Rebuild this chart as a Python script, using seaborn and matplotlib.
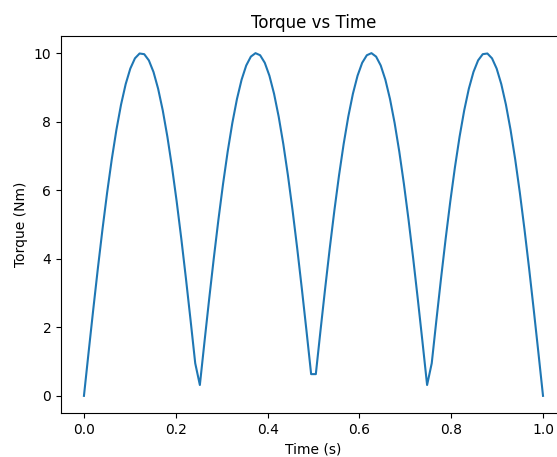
import matplotlib
matplotlib.use('Agg')
import matplotlib.pyplot as plt
import pandas as pd
import seaborn as sns

time_s = [0.0000, 0.0101, 0.0202, 0.0303, 0.0404, 0.0505, 0.0606, 0.0707, 0.0808, 0.0909,
          0.1010, 0.1111, 0.1212, 0.1313, 0.1414, 0.1515, 0.1616, 0.1717, 0.1818, 0.1919,
          0.2020, 0.2121, 0.2222, 0.2323, 0.2424, 0.2525, 0.2626, 0.2727, 0.2828, 0.2929,
          0.3030, 0.3131, 0.3232, 0.3333, 0.3434, 0.3535, 0.3636, 0.3737, 0.3838, 0.3939,
          0.4040, 0.4141, 0.4242, 0.4343, 0.4444, 0.4545, 0.4646, 0.4747, 0.4848, 0.4949,
          0.5051, 0.5152, 0.5253, 0.5354, 0.5455, 0.5556, 0.5657, 0.5758, 0.5859, 0.5960,
          0.6061, 0.6162, 0.6263, 0.6364, 0.6465, 0.6566, 0.6667, 0.6768, 0.6869, 0.6970,
          0.7071, 0.7172, 0.7273, 0.7374, 0.7475, 0.7576, 0.7677, 0.7778, 0.7879, 0.7980,
          0.8081, 0.8182, 0.8283, 0.8384, 0.8485, 0.8586, 0.8687, 0.8788, 0.8889, 0.8990,
          0.9091, 0.9192, 0.9293, 0.9394, 0.9495, 0.9596, 0.9697, 0.9798, 0.9899, 1.0000]

torque_nm = [0.000, 1.266, 2.511, 3.717, 4.862, 5.929, 6.901, 7.761, 8.497, 9.096,
             9.549, 9.848, 9.989, 9.969, 9.788, 9.450, 8.960, 8.327, 7.557, 6.666,
             5.671, 4.582, 3.420, 2.203, 0.951, 0.317, 1.580, 2.817, 4.009, 5.137,
             6.182, 7.127, 7.958, 8.660, 9.224, 9.639, 9.898, 9.999, 9.938, 9.718,
             9.341, 8.815, 8.146, 7.346, 6.428, 5.406, 4.298, 3.120, 1.893, 0.634,
             0.634, 1.893, 3.120, 4.298, 5.406, 6.428, 7.346, 8.146, 8.815, 9.341,
             9.718, 9.938, 9.999, 9.898, 9.639, 9.224, 8.660, 7.958, 7.127, 6.182,
             5.137, 4.009, 2.817, 1.580, 0.317, 0.951, 2.203, 3.420, 4.582, 5.671,
             6.666, 7.557, 8.327, 8.960, 9.450, 9.788, 9.969, 9.989, 9.848, 9.549,
             9.096, 8.497, 7.761, 6.901, 5.929, 4.862, 3.717, 2.511, 1.266, 0.000]

df = pd.DataFrame({'time': time_s, 'torque': torque_nm})

fig = plt.figure(figsize=(5.57, 4.57), dpi=100)
ax = fig.add_axes([0.1095, 0.0963, 0.9066, 0.8249])
sns.lineplot(data=df, x='time', y='torque', ax=ax, color='#1f77b4', linewidth=1.5)
ax.set_title('Torque vs Time', fontsize=12)
ax.set_xlabel('Time (s)')
ax.set_ylabel('Torque (Nm)')

fig.savefig('out.png', dpi=100)
